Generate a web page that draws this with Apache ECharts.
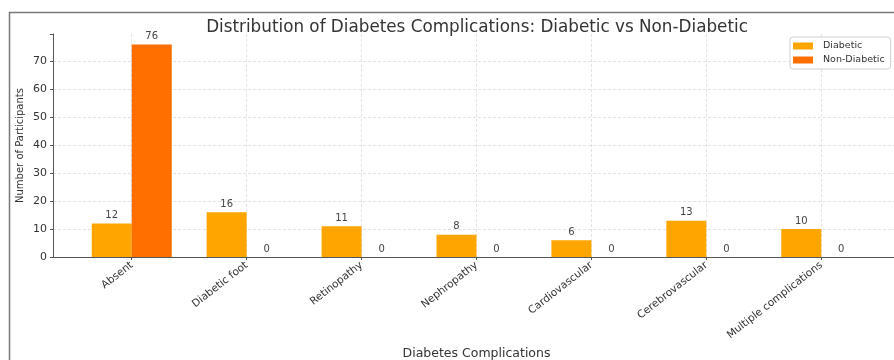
<!DOCTYPE html>
<html>
<head>
<meta charset="utf-8">
<script src="https://cdn.jsdelivr.net/npm/echarts@6/dist/echarts.min.js"></script>
<style>
  html, body { margin: 0; padding: 0; background: #fff; }
  #main { width: 894px; height: 360px; }
</style>
</head>
<body>
<div id="main"></div>
<script>
var categories = ['Absent', 'Diabetic foot', 'Retinopathy', 'Nephropathy', 'Cardiovascular', 'Cerebrovascular', 'Multiple complications'];
var diabetic = [12, 16, 11, 8, 6, 13, 10];
var nonDiabetic = [76, 0, 0, 0, 0, 0, 0];

var font = 'DejaVu Sans';
var gridColor = '#e3e3e3';

// bars sit on a value axis so the left margin can match the original (matplotlib style)
function pairs(vals) {
  return vals.map(function (v, i) { return [i, v]; });
}

var myChart = echarts.init(document.getElementById('main'));
var option = {
  animation: false,
  backgroundColor: '#fff',
  textStyle: { fontFamily: font },
  title: {
    text: 'Distribution of Diabetes Complications: Diabetic vs Non-Diabetic',
    left: 472, top: 14, textAlign: 'center',
    textStyle: { fontFamily: font, fontSize: 16.8, fontWeight: 'normal', color: '#333' }
  },
  legend: {
    orient: 'vertical',
    left: 790, top: 37,
    itemWidth: 20, itemHeight: 7, itemGap: 4,
    padding: [4, 6, 4, 3],
    borderColor: '#d0d0d0', borderWidth: 1, borderRadius: 3,
    backgroundColor: '#fff',
    icon: 'rect',
    textStyle: { fontFamily: font, fontSize: 9.5, color: '#333', padding: [0, 0, 0, 5] },
    data: ['Diabetic', 'Non-Diabetic']
  },
  grid: { left: 53, right: -6, top: 34, bottom: 103, outerBoundsMode: 'none', containLabel: false },
  xAxis: {
    type: 'value',
    min: -0.685, max: 6.685,
    minInterval: 1, maxInterval: 1,
    name: 'Diabetes Complications',
    nameLocation: 'middle', nameGap: 90,
    nameMoveOverlap: false,
    nameTextStyle: { fontFamily: font, fontSize: 12.5, color: '#333' },
    axisLine: { show: true, onZero: false, lineStyle: { color: '#555', width: 1 } },
    axisTick: { show: true, length: 3, lineStyle: { color: '#555' } },
    axisLabel: {
      rotate: 38, fontSize: 10.5, color: '#333', margin: 7,
      showMinLabel: false, showMaxLabel: false,
      formatter: function (v) {
        return (Math.abs(v - Math.round(v)) < 1e-6 && categories[Math.round(v)]) ? categories[Math.round(v)] : '';
      }
    },
    splitLine: { show: true, lineStyle: { color: gridColor, type: [3, 2], width: 1 } }
  },
  yAxis: {
    type: 'value',
    min: 0, max: 79.8,
    minInterval: 10, maxInterval: 10,
    name: 'Number of Participants',
    nameLocation: 'middle', nameGap: 28,
    nameMoveOverlap: false,
    nameTextStyle: { fontFamily: font, fontSize: 10, color: '#333' },
    axisLine: { show: true, onZero: false, lineStyle: { color: '#555', width: 1 } },
    axisTick: { show: true, length: 3, lineStyle: { color: '#555' } },
    axisLabel: {
      fontSize: 11, color: '#333', margin: 6,
      formatter: function (v) { return v % 10 === 0 ? v : ''; }
    },
    splitLine: {
      show: true,
      lineStyle: {
        color: [gridColor, gridColor, gridColor, gridColor, gridColor, gridColor, gridColor, gridColor, 'rgba(0,0,0,0)'],
        type: [3, 2], width: 1
      }
    }
  },
  series: [
    {
      name: 'Diabetic',
      type: 'bar',
      barWidth: 40,
      barGap: '0%',
      itemStyle: { color: '#ffa500' },
      label: { show: true, position: 'top', distance: 3, fontSize: 10, color: '#444', formatter: function (p) { return p.value[1]; } },
      data: pairs(diabetic)
    },
    {
      name: 'Non-Diabetic',
      type: 'bar',
      barWidth: 40,
      barGap: '0%',
      itemStyle: { color: '#ff6f00' },
      label: { show: true, position: 'top', distance: 3, fontSize: 10, color: '#444', formatter: function (p) { return p.value[1]; } },
      data: pairs(nonDiabetic)
    }
  ],
  graphic: [
    { type: 'line', silent: true, shape: { x1: 9, y1: 12.5, x2: 894, y2: 12.5 }, style: { stroke: '#777', lineWidth: 1.5 } },
    { type: 'line', silent: true, shape: { x1: 9.5, y1: 12, x2: 9.5, y2: 360 }, style: { stroke: '#777', lineWidth: 1.5 } }
  ]
};
myChart.setOption(option);
</script>
</body>
</html>
